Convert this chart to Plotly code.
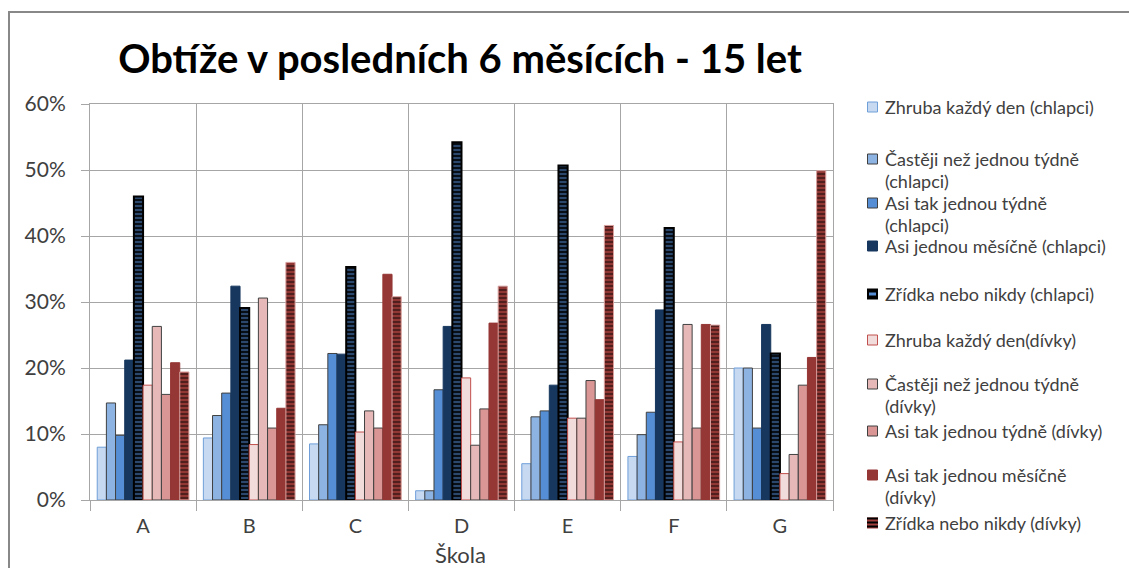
import plotly.graph_objects as go

schools = ["A", "B", "C", "D", "E", "F", "G"]

legend_lines = [
    ["Zhruba každý den (chlapci)"],
    ["Častěji než jednou týdně", "(chlapci)"],
    ["Asi tak jednou týdně", "(chlapci)"],
    ["Asi jednou měsíčně (chlapci)"],
    ["Zřídka nebo nikdy (chlapci)"],
    ["Zhruba každý den(dívky)"],
    ["Častěji než jednou týdně", "(dívky)"],
    ["Asi tak jednou týdně (dívky)"],
    ["Asi tak jednou měsíčně", "(dívky)"],
    ["Zřídka nebo nikdy (dívky)"],
]

boys_daily = [0.080, 0.094, 0.085, 0.014, 0.055, 0.066, 0.200]
boys_more_weekly = [0.147, 0.128, 0.114, 0.014, 0.126, 0.099, 0.200]
boys_weekly = [0.098, 0.162, 0.222, 0.167, 0.135, 0.133, 0.109]
boys_monthly = [0.212, 0.324, 0.221, 0.263, 0.174, 0.288, 0.266]
boys_rarely = [0.460, 0.291, 0.353, 0.542, 0.507, 0.412, 0.222]
girls_daily = [0.174, 0.084, 0.103, 0.185, 0.124, 0.088, 0.040]
girls_more_weekly = [0.263, 0.306, 0.135, 0.083, 0.124, 0.266, 0.069]
girls_weekly = [0.160, 0.109, 0.109, 0.138, 0.181, 0.109, 0.174]
girls_monthly = [0.208, 0.139, 0.342, 0.268, 0.152, 0.266, 0.216]
girls_rarely = [0.194, 0.360, 0.308, 0.324, 0.416, 0.265, 0.499]

values = [boys_daily, boys_more_weekly, boys_weekly, boys_monthly, boys_rarely,
          girls_daily, girls_more_weekly, girls_weekly, girls_monthly, girls_rarely]

BLUE_H = "#558ED5"
RED_H = "#A23E3B"
styles = [
    dict(color="#C6D9F1", line=dict(color="#6F9FD8", width=1)),
    dict(color="#8DB3E2", line=dict(color="#404040", width=1)),
    dict(color="#558ED5", line=dict(color="#404040", width=1)),
    dict(color="#17375E", line=dict(color="#17375E", width=1)),
    dict(color="#000000", line=dict(color="#000000", width=2),
         pattern=dict(shape="-", fgcolor=BLUE_H, size=4, solidity=0.6, fillmode="overlay")),
    dict(color="#F2DCDB", line=dict(color="#C0504D", width=1)),
    dict(color="#E6B9B8", line=dict(color="#404040", width=1)),
    dict(color="#D99694", line=dict(color="#404040", width=1)),
    dict(color="#953735", line=dict(color="#953735", width=1)),
    dict(color=RED_H, line=dict(color="#D9A09E", width=1),
         pattern=dict(shape="-", fgcolor="#000000", size=4, solidity=0.6, fillmode="overlay")),
]

fig = go.Figure()
for lines, vals, st in zip(legend_lines, values, styles):
    fig.add_trace(go.Bar(x=schools, y=vals, name=" ".join(lines), marker=st, showlegend=False))

FONT = "Lato, Calibri, Carlito, sans-serif"
TXT = "#404040"
grid = "#A6A6A6"

# plot area in pixels
PL, PR, PT, PB = 90, 833, 104, 500
W, H = 1129, 568


def px(x):
    return (x - PL) / (PR - PL)


def py(y):
    return (PB - y) / (PB - PT)


fig.update_layout(
    width=W, height=H,
    paper_bgcolor="white", plot_bgcolor="white",
    margin=dict(l=PL, r=W - PR, t=PT, b=H - PB),
    barmode="group", bargap=0.136, bargroupgap=0,
    font=dict(family=FONT, color=TXT),
    title=dict(text="<b>Obtíže v posledních 6 měsících - 15 let</b>",
               x=460 / W, xanchor="center", y=1 - 59 / H, yanchor="middle",
               font=dict(size=40, color="#000000", family=FONT)),
    showlegend=False,
)

fig.update_xaxes(
    type="category", tickson="boundaries", showgrid=True, gridcolor=grid, gridwidth=1,
    ticks="outside", ticklen=10, tickcolor=grid, tickwidth=1, ticklabelstandoff=8,
    showline=True, linecolor=grid, linewidth=1, mirror=True,
    tickfont=dict(size=20, color=TXT),
)
fig.update_yaxes(
    range=[0, 0.6], dtick=0.1, tickformat=".0%", showgrid=True, gridcolor=grid, gridwidth=1,
    ticks="outside", ticklen=8, tickcolor=grid, tickwidth=1, ticklabelstandoff=11,
    showline=True, linecolor=grid, linewidth=1, mirror=True, zeroline=False,
    tickfont=dict(size=21, color=TXT),
)

# x-axis title
fig.add_annotation(text="Škola", xref="paper", yref="paper", x=px(460), y=py(554),
                   xanchor="center", yanchor="middle", showarrow=False, borderpad=0,
                   font=dict(size=22, color=TXT, family=FONT))

# outer chart frame
fig.add_shape(type="rect", xref="paper", yref="paper",
              x0=px(9), x1=px(1140), y0=py(580), y1=py(12),
              line=dict(color="#888888", width=2), fillcolor="rgba(0,0,0,0)", layer="below")

# legend (drawn manually to match spacing)
legend_y = [107, 159, 203, 246, 294, 340, 384, 431, 475, 523]
SX0, SX1 = 867, 878
TX = 883
LINE_GAP = 22
for i, (lines, st) in enumerate(zip(legend_lines, styles)):
    yc = legend_y[i]
    y0, y1 = yc - 5.5, yc + 5.5
    if i == 4:
        fig.add_shape(type="rect", xref="paper", yref="paper", x0=px(SX0), x1=px(SX1),
                      y0=py(y1), y1=py(y0), fillcolor="#000000", line=dict(width=0))
        fig.add_shape(type="rect", xref="paper", yref="paper", x0=px(SX0 + 2), x1=px(SX1 - 2),
                      y0=py(yc + 1.5), y1=py(yc - 1.5), fillcolor=BLUE_H, line=dict(width=0))
    elif i == 9:
        fig.add_shape(type="rect", xref="paper", yref="paper", x0=px(SX0), x1=px(SX1),
                      y0=py(y1), y1=py(y0), fillcolor=RED_H, line=dict(width=0))
        for k in range(3):
            sy = y0 + k * 4
            fig.add_shape(type="rect", xref="paper", yref="paper", x0=px(SX0), x1=px(SX1),
                          y0=py(sy + 2), y1=py(sy), fillcolor="#000000", line=dict(width=0))
    else:
        fig.add_shape(type="rect", xref="paper", yref="paper", x0=px(SX0 + 0.5), x1=px(SX1 - 0.5),
                      y0=py(y1 - 0.5), y1=py(y0 + 0.5), fillcolor=st["color"],
                      line=dict(color=st["line"]["color"], width=1))
    for j, t in enumerate(lines):
        fig.add_annotation(text=t, xref="paper", yref="paper", x=px(TX), y=py(yc + j * LINE_GAP),
                           xanchor="left", yanchor="middle", showarrow=False,
                           font=dict(size=18, color=TXT, family=FONT))

fig.write_html("out.html", config={"displayModeBar": False},
               post_script="document.body.style.margin='0';document.body.style.overflow='hidden';")
